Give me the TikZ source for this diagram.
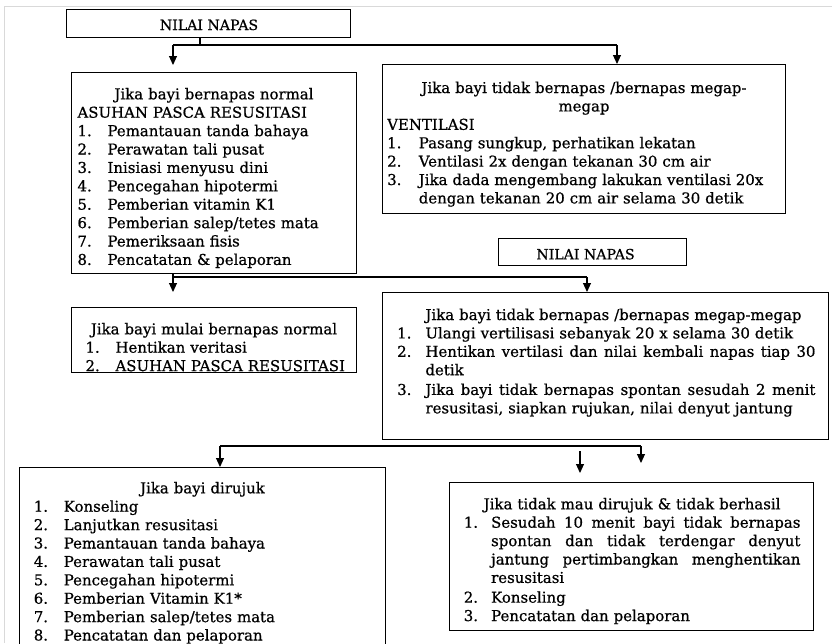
\documentclass[tikz,border=0pt]{standalone}
\usepackage{fontspec}
\setmainfont{DejaVu Serif}[FakeBold=0.7]
\usetikzlibrary{arrows.meta}

\newlength{\itmw}
\setlength{\itmw}{22.5pt}
% numbered line (one line)
\newcommand{\itm}[2]{\par\noindent\hbox to \itmw{\strut#1\hfil}\hbox{#2}}
% numbered item of several lines
\newcommand{\itmj}[2]{\par\noindent\hbox to \itmw{\strut#1\hfil}\vtop{\advance\hsize by -\itmw #2}}
\newcommand{\jl}[1]{\hbox to \hsize{\strut\spaceskip=.32em plus 1fil minus .08em\relax#1}}
\newcommand{\rl}[1]{\hbox{\strut#1}}
\newcommand{\ttl}[1]{\par\noindent\hbox to \hsize{\hfil\strut#1\hfil}}
\newcommand{\lft}[1]{\par\noindent\hbox{\strut#1}}

\tikzset{every picture/.style={line width=0.75pt}}
\tikzset{
  kotak/.style={draw, line width=1.1pt, anchor=north west, inner sep=0pt},
  isi/.style={anchor=north west, inner sep=0pt,
    font=\fontsize{11.2}{13.8}\selectfont},
  judul/.style={anchor=base, inner sep=0pt, font=\fontsize{10.6}{12}\selectfont},
  garis/.style={line width=0.8pt},
  panah/.style={garis, -{Triangle[width=6pt,length=6.75pt]}},
}

\begin{document}
\begin{tikzpicture}[x=0.75pt,y=0.75pt,yscale=-1,xscale=1]
\useasboundingbox (0,0) rectangle (832,643);
\clip (0,0) rectangle (832,643);

%Frame
\draw [color={rgb, 255:red, 217; green, 217; blue, 217 }] (4,643) -- (4,6) -- (832,6) ;

%Shape: Rectangle
\node[kotak, minimum width=213pt, minimum height=21pt] (napas1) at (66,9) {};
%Shape: Rectangle
\node[kotak, minimum width=213.75pt, minimum height=150.75pt] (normal) at (71,72) {};
%Shape: Rectangle
\node[kotak, minimum width=302.25pt, minimum height=111.75pt] (ventil) at (382,64) {};
%Shape: Rectangle
\node[kotak, minimum width=141pt, minimum height=20.25pt] (napas2) at (498,238) {};
%Shape: Rectangle
\node[kotak, minimum width=213.75pt, minimum height=48.75pt] (mulai) at (71,307) {};
%Shape: Rectangle
\node[kotak, minimum width=334.5pt, minimum height=110.25pt] (ulang) at (382,292) {};
%Shape: Rectangle
\node[kotak, minimum width=274.5pt, minimum height=137.25pt] (rujuk) at (19,467) {};
%Shape: Rectangle
\node[kotak, minimum width=273pt, minimum height=111pt] (gagal) at (449,482) {};

% Text Node
\node[judul] (tnapas1) at (209,30) {NILAI NAPAS};
% Text Node
\node[judul] (tnapas2) at (585.5,259.3) {NILAI NAPAS};
% Text Node
\node[isi, text width=204.75pt] (tnormal) at (77,80.4) {%
\ttl{Jika bayi bernapas normal}
\lft{ASUHAN PASCA RESUSITASI}
\itm{1.}{Pemantauan tanda bahaya}
\itm{2.}{Perawatan tali pusat}
\itm{3.}{Inisiasi menyusu dini}
\itm{4.}{Pencegahan hipotermi}
\itm{5.}{Pemberian vitamin K1}
\itm{6.}{Pemberian salep/tetes mata}
\itm{7.}{Pemeriksaan fisis}
\itm{8.}{Pencatatan \& pelaporan}};
% Text Node
\node[isi, text width=295.2pt] (tventil) at (386.7,74.1) {%
\setlength{\itmw}{23.7pt}%
\ttl{Jika bayi tidak bernapas /bernapas megap-}
\ttl{megap}
\lft{VENTILASI}
\itm{1.}{Pasang sungkup, perhatikan lekatan}
\itm{2.}{Ventilasi 2x dengan tekanan 30 cm air}
\itmj{3.}{\rl{Jika dada mengembang lakukan ventilasi 20x}\rl{dengan tekanan 20 cm air selama 30 detik}}};
% Text Node
\node[isi, text width=192.75pt] (tmulai) at (85,315.4) {%
\ttl{Jika bayi mulai bernapas normal}
\itm{1.}{Hentikan veritasi}
\itm{2.}{ASUHAN PASCA RESUSITASI}};
% Text Node
\node[isi, text width=313.7pt] (tulang) at (396.7,301.1) {%
\setlength{\itmw}{21.2pt}%
\lft{\hspace*{\itmw}Jika bayi tidak bernapas /bernapas megap-megap}
\itm{1.}{Ulangi vertilisasi sebanyak 20 x selama 30 detik}
\itmj{2.}{\jl{Hentikan vertilasi dan nilai kembali napas tiap 30}\rl{detik}}
\itmj{3.}{\jl{Jika bayi tidak bernapas spontan sesudah 2 menit}\rl{resusitasi, siapkan rujukan, nilai denyut jantung}}};
% Text Node
\node[isi, text width=253pt] (trujuk) at (33.3,474.4) {%
\ttl{Jika bayi dirujuk}
\itm{1.}{Konseling}
\itm{2.}{Lanjutkan resusitasi}
\itm{3.}{Pemantauan tanda bahaya}
\itm{4.}{Perawatan tali pusat}
\itm{5.}{Pencegahan hipotermi}
\itm{6.}{Pemberian Vitamin K1*}
\itm{7.}{Pemberian salep/tetes mata}
\itm{8.}{Pencatatan dan pelaporan}};
% Text Node
\node[isi, text width=252.5pt] (tgagal) at (463.3,490.4) {%
\setlength{\itmw}{20.5pt}%
\ttl{Jika tidak mau dirujuk \& tidak berhasil}
\itmj{1.}{\jl{Sesudah 10 menit bayi tidak bernapas}\jl{spontan dan tidak terdengar denyut}\jl{jantung pertimbangkan menghentikan}\rl{resusitasi}}
\itm{2.}{Konseling}
\itm{3.}{Pencatatan dan pelaporan}};

%Connectors
\coordinate (j1) at (200,45);
\coordinate (a1) at (173,45);
\coordinate (a2) at (617,45);
\draw[garis] (napas1.south -| j1) -- (j1);
\draw[garis] (a1) -- (a2);
\draw[panah, shorten >=5.25pt] (a1) -- (a1 |- normal.north);
\draw[panah] (a2) -- (a2 |- ventil.north);

\coordinate (b1) at (173,277);
\coordinate (b2) at (587,277);
\draw[garis] (normal.south -| b1) -- (b1) -- (b2);
\draw[panah, shorten >=11.25pt] (b1) -- (b1 |- mulai.north);
\draw[panah] (b2) -- (b2 |- ulang.north);

\coordinate (c1) at (220,446);
\coordinate (c2) at (641,446);
\coordinate (d1) at (580,451);
\draw[garis] (c1) -- (c2);
\draw[panah] (c1) -- (c1 |- rujuk.north);
\draw[panah, shorten >=14.25pt] (c2) -- (c2 |- gagal.north);
\draw[panah, shorten >=6.75pt] (d1) -- (d1 |- gagal.north);

\end{tikzpicture}
\end{document}
